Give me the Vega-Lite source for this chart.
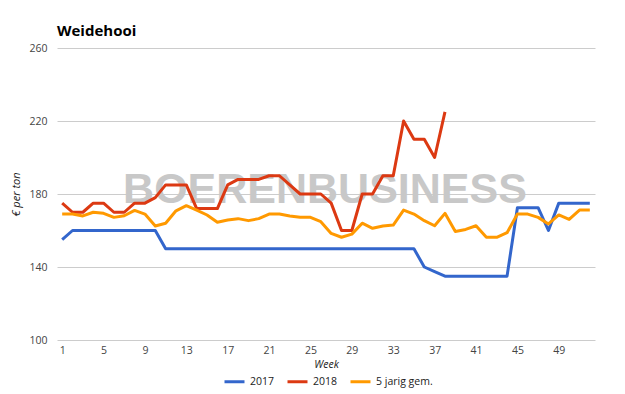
{
  "$schema": "https://vega.github.io/schema/vega-lite/v6.json",
  "width": 538,
  "height": 292,
  "autosize": {"type": "none"},
  "padding": {"left": 57, "top": 48, "right": 30, "bottom": 54},
  "background": "white",
  "title": {"text": "Weidehooi", "anchor": "start", "frame": "group", "font": "Open Sans", "fontSize": 15, "fontWeight": "bold", "color": "#000000", "offset": 11, "dy": 19, "baseline": "alphabetic"},
  "config": {"view": {"stroke": null}, "font": "Open Sans"},
  "encoding": {
    "x": {"field": "week", "type": "quantitative",
      "scale": {"domain": [0.5, 52.5], "nice": false, "zero": false},
      "axis": {"title": "Week", "titleFontStyle": "italic", "titleFontWeight": "normal", "titleFontSize": 10.5, "titleColor": "#222222", "titlePadding": 4,
        "values": [1, 5, 9, 13, 17, 21, 25, 29, 33, 37, 41, 45, 49], "labelFontSize": 10.5, "labelColor": "#444444", "labelPadding": 5,
        "ticks": false, "domain": false, "grid": false}},
    "y": {"field": "price", "type": "quantitative",
      "scale": {"domain": [100, 260], "nice": false, "zero": false},
      "axis": {"title": "€ per ton", "titleFontStyle": "italic", "titleFontWeight": "normal", "titleFontSize": 11, "titleColor": "#222222", "titlePadding": 7,
        "values": [100, 140, 180, 220, 260], "labelFontSize": 10.5, "labelColor": "#444444", "labelPadding": 10,
        "ticks": false, "domain": false, "grid": true, "gridColor": "#cccccc", "gridWidth": 1}}
  },
  "layer": [
    {
      "data": {"values": [{"label": "BOERENBUSINESS", "week": 26.4, "price": 175}]},
      "mark": {"type": "text", "font": "Liberation Sans", "fontWeight": "bold", "fontSize": 43, "color": "#c8c8c8", "align": "center", "baseline": "alphabetic"},
      "encoding": {"text": {"field": "label"}}
    },
    {
      "data": {"values": [
        {"series": "2017", "week": 1, "price": 155},
        {"series": "2017", "week": 2, "price": 160},
        {"series": "2017", "week": 3, "price": 160},
        {"series": "2017", "week": 4, "price": 160},
        {"series": "2017", "week": 5, "price": 160},
        {"series": "2017", "week": 6, "price": 160},
        {"series": "2017", "week": 7, "price": 160},
        {"series": "2017", "week": 8, "price": 160},
        {"series": "2017", "week": 9, "price": 160},
        {"series": "2017", "week": 10, "price": 160},
        {"series": "2017", "week": 11, "price": 150},
        {"series": "2017", "week": 12, "price": 150},
        {"series": "2017", "week": 13, "price": 150},
        {"series": "2017", "week": 14, "price": 150},
        {"series": "2017", "week": 15, "price": 150},
        {"series": "2017", "week": 16, "price": 150},
        {"series": "2017", "week": 17, "price": 150},
        {"series": "2017", "week": 18, "price": 150},
        {"series": "2017", "week": 19, "price": 150},
        {"series": "2017", "week": 20, "price": 150},
        {"series": "2017", "week": 21, "price": 150},
        {"series": "2017", "week": 22, "price": 150},
        {"series": "2017", "week": 23, "price": 150},
        {"series": "2017", "week": 24, "price": 150},
        {"series": "2017", "week": 25, "price": 150},
        {"series": "2017", "week": 26, "price": 150},
        {"series": "2017", "week": 27, "price": 150},
        {"series": "2017", "week": 28, "price": 150},
        {"series": "2017", "week": 29, "price": 150},
        {"series": "2017", "week": 30, "price": 150},
        {"series": "2017", "week": 31, "price": 150},
        {"series": "2017", "week": 32, "price": 150},
        {"series": "2017", "week": 33, "price": 150},
        {"series": "2017", "week": 34, "price": 150},
        {"series": "2017", "week": 35, "price": 150},
        {"series": "2017", "week": 36, "price": 140},
        {"series": "2017", "week": 37, "price": 137.5},
        {"series": "2017", "week": 38, "price": 135},
        {"series": "2017", "week": 39, "price": 135},
        {"series": "2017", "week": 40, "price": 135},
        {"series": "2017", "week": 41, "price": 135},
        {"series": "2017", "week": 42, "price": 135},
        {"series": "2017", "week": 43, "price": 135},
        {"series": "2017", "week": 44, "price": 135},
        {"series": "2017", "week": 45, "price": 172.5},
        {"series": "2017", "week": 46, "price": 172.5},
        {"series": "2017", "week": 47, "price": 172.5},
        {"series": "2017", "week": 48, "price": 160},
        {"series": "2017", "week": 49, "price": 175},
        {"series": "2017", "week": 50, "price": 175},
        {"series": "2017", "week": 51, "price": 175},
        {"series": "2017", "week": 52, "price": 175},
        {"series": "2018", "week": 1, "price": 175},
        {"series": "2018", "week": 2, "price": 170},
        {"series": "2018", "week": 3, "price": 170},
        {"series": "2018", "week": 4, "price": 175},
        {"series": "2018", "week": 5, "price": 175},
        {"series": "2018", "week": 6, "price": 170},
        {"series": "2018", "week": 7, "price": 170},
        {"series": "2018", "week": 8, "price": 175},
        {"series": "2018", "week": 9, "price": 175},
        {"series": "2018", "week": 10, "price": 178},
        {"series": "2018", "week": 11, "price": 185},
        {"series": "2018", "week": 12, "price": 185},
        {"series": "2018", "week": 13, "price": 185},
        {"series": "2018", "week": 14, "price": 172},
        {"series": "2018", "week": 15, "price": 172},
        {"series": "2018", "week": 16, "price": 172},
        {"series": "2018", "week": 17, "price": 185},
        {"series": "2018", "week": 18, "price": 188},
        {"series": "2018", "week": 19, "price": 188},
        {"series": "2018", "week": 20, "price": 188},
        {"series": "2018", "week": 21, "price": 190},
        {"series": "2018", "week": 22, "price": 190},
        {"series": "2018", "week": 23, "price": 185},
        {"series": "2018", "week": 24, "price": 180},
        {"series": "2018", "week": 25, "price": 180},
        {"series": "2018", "week": 26, "price": 180},
        {"series": "2018", "week": 27, "price": 175},
        {"series": "2018", "week": 28, "price": 160},
        {"series": "2018", "week": 29, "price": 160},
        {"series": "2018", "week": 30, "price": 180},
        {"series": "2018", "week": 31, "price": 180},
        {"series": "2018", "week": 32, "price": 190},
        {"series": "2018", "week": 33, "price": 190},
        {"series": "2018", "week": 34, "price": 220},
        {"series": "2018", "week": 35, "price": 210},
        {"series": "2018", "week": 36, "price": 210},
        {"series": "2018", "week": 37, "price": 200},
        {"series": "2018", "week": 38, "price": 225},
        {"series": "5 jarig gem.", "week": 1, "price": 169},
        {"series": "5 jarig gem.", "week": 2, "price": 169},
        {"series": "5 jarig gem.", "week": 3, "price": 168},
        {"series": "5 jarig gem.", "week": 4, "price": 170},
        {"series": "5 jarig gem.", "week": 5, "price": 169.4},
        {"series": "5 jarig gem.", "week": 6, "price": 167.2},
        {"series": "5 jarig gem.", "week": 7, "price": 168.1},
        {"series": "5 jarig gem.", "week": 8, "price": 171},
        {"series": "5 jarig gem.", "week": 9, "price": 169},
        {"series": "5 jarig gem.", "week": 10, "price": 162.5},
        {"series": "5 jarig gem.", "week": 11, "price": 164},
        {"series": "5 jarig gem.", "week": 12, "price": 170.8},
        {"series": "5 jarig gem.", "week": 13, "price": 173.6},
        {"series": "5 jarig gem.", "week": 14, "price": 171.2},
        {"series": "5 jarig gem.", "week": 15, "price": 168.5},
        {"series": "5 jarig gem.", "week": 16, "price": 164.5},
        {"series": "5 jarig gem.", "week": 17, "price": 165.8},
        {"series": "5 jarig gem.", "week": 18, "price": 166.5},
        {"series": "5 jarig gem.", "week": 19, "price": 165.4},
        {"series": "5 jarig gem.", "week": 20, "price": 166.5},
        {"series": "5 jarig gem.", "week": 21, "price": 169},
        {"series": "5 jarig gem.", "week": 22, "price": 169},
        {"series": "5 jarig gem.", "week": 23, "price": 168},
        {"series": "5 jarig gem.", "week": 24, "price": 167.2},
        {"series": "5 jarig gem.", "week": 25, "price": 167.2},
        {"series": "5 jarig gem.", "week": 26, "price": 164.8},
        {"series": "5 jarig gem.", "week": 27, "price": 158.4},
        {"series": "5 jarig gem.", "week": 28, "price": 156.3},
        {"series": "5 jarig gem.", "week": 29, "price": 158},
        {"series": "5 jarig gem.", "week": 30, "price": 164},
        {"series": "5 jarig gem.", "week": 31, "price": 161.2},
        {"series": "5 jarig gem.", "week": 32, "price": 162.5},
        {"series": "5 jarig gem.", "week": 33, "price": 163},
        {"series": "5 jarig gem.", "week": 34, "price": 171.2},
        {"series": "5 jarig gem.", "week": 35, "price": 169},
        {"series": "5 jarig gem.", "week": 36, "price": 165.4},
        {"series": "5 jarig gem.", "week": 37, "price": 162.6},
        {"series": "5 jarig gem.", "week": 38, "price": 169.4},
        {"series": "5 jarig gem.", "week": 39, "price": 159.5},
        {"series": "5 jarig gem.", "week": 40, "price": 160.6},
        {"series": "5 jarig gem.", "week": 41, "price": 162.6},
        {"series": "5 jarig gem.", "week": 42, "price": 156.3},
        {"series": "5 jarig gem.", "week": 43, "price": 156.3},
        {"series": "5 jarig gem.", "week": 44, "price": 158.8},
        {"series": "5 jarig gem.", "week": 45, "price": 169},
        {"series": "5 jarig gem.", "week": 46, "price": 169},
        {"series": "5 jarig gem.", "week": 47, "price": 167.2},
        {"series": "5 jarig gem.", "week": 48, "price": 163.6},
        {"series": "5 jarig gem.", "week": 49, "price": 168.5},
        {"series": "5 jarig gem.", "week": 50, "price": 166.1},
        {"series": "5 jarig gem.", "week": 51, "price": 171.2},
        {"series": "5 jarig gem.", "week": 52, "price": 171.2}
      ]},
      "mark": {"type": "line", "strokeWidth": 3, "strokeJoin": "round"},
      "encoding": {
        "color": {"field": "series", "type": "nominal",
          "scale": {"domain": ["2017", "2018", "5 jarig gem."], "range": ["#3366cc", "#dc3912", "#ff9900"]},
          "legend": {"title": null, "orient": "none", "legendX": 166, "legendY": 322, "direction": "horizontal",
            "symbolType": "stroke", "symbolSize": 400, "symbolStrokeWidth": 3, "labelFontSize": 10.5, "labelColor": "#222222",
            "labelOffset": 4, "columnPadding": 6}}
      }
    }
  ]
}
